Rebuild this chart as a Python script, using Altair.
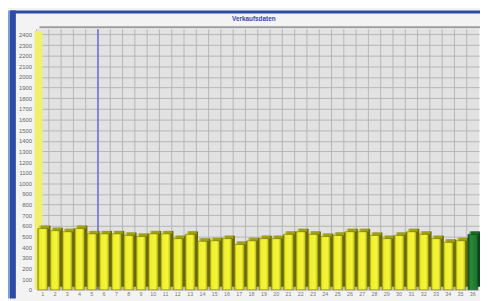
import altair as alt
import pandas as pd

# ---- data ----
categories = ["1", "2", "3", "4", "5", "6", "7", "8", "9", "10", "11", "12",
              "13", "14", "15", "16", "17", "18", "19", "20", "21", "22", "23", "24",
              "25", "26", "27", "28", "29", "30", "31", "32", "33", "34", "35", "36"]
values = [575, 555, 545, 575, 525, 525, 525, 510, 500, 525, 525, 480,
          520, 455, 460, 480, 425, 460, 480, 480, 520, 545, 520, 500,
          510, 545, 545, 510, 480, 510, 545, 520, 480, 445, 460, 520]
kinds = ["Ist"] * 35 + ["Aktuell"]
y_ticks = [0, 100, 200, 300, 400, 500, 600, 700, 800, 900, 1000, 1100, 1200,
           1300, 1400, 1500, 1600, 1700, 1800, 1900, 2000, 2100, 2200, 2300, 2400]
marker_cat = ["6"]
title_text = "Verkaufsdaten"

df = pd.DataFrame({"cat": categories, "value": values, "kind": kinds})
FONT = "Liberation Sans"

xscale = alt.Scale(paddingInner=0, paddingOuter=0)
xaxis = alt.Axis(title=None, labelAngle=0, ticks=False, domain=False,
                 grid=False, labelFontSize=5.5, labelColor="#7a7a7a",
                 labelPadding=2, labelOverlap=False, labelFont=FONT)
x_main = alt.X("cat:O", sort=categories, scale=xscale, axis=xaxis)
x_edge = alt.X("cat:O", sort=categories, scale=xscale, bandPosition=0, axis=xaxis)
y_main = alt.Y("value:Q", scale=alt.Scale(domain=[0, 2450], nice=False, zero=True),
               axis=alt.Axis(title=None, values=y_ticks, grid=True, gridColor="#b6b6b6",
                             gridWidth=1, ticks=False, domain=False, labelFontSize=6,
                             labelColor="#666666", labelPadding=5, labelOverlap=False,
                             labelFont=FONT, format="d"))

base = alt.Chart(df)
deco = alt.Chart(pd.DataFrame({"d": [0]}))

def rect(x1, x2, y1, y2, color):
    return deco.mark_rect(color=color).encode(
        x=alt.value(x1), x2=alt.value(x2), y=alt.value(y1), y2=alt.value(y2))

# vertical grid at band edges
vgrid = base.mark_rule(color="#b6b6b6", strokeWidth=1).encode(x=x_edge)
# blue marker line
marker = alt.Chart(pd.DataFrame({"cat": marker_cat})).mark_rule(
    color="#6b6bd8", strokeWidth=1.5).encode(x=x_edge)

# yellow side wall
wall = rect(-2, 6, 2, 265, "#f0f070")

# frame pieces
light_left = rect(-29, -27, -19, 274, "#7f9fd8")
dark_left = rect(-27, -21, -19, 274, "#2d4ca5")
dark_top = rect(-27, 452, -19, -16, "#2d4ca5")
title_line = deco.mark_rule(color="#9c9c9c", strokeWidth=2).encode(
    x=alt.value(3), x2=alt.value(451), y=alt.value(-2))
title = deco.mark_text(text=title_text, color="#3a44aa", fontSize=6.5, font=FONT,
                       fontWeight="bold").encode(x=alt.value(221), y=alt.value(-10))

yellow = base.transform_filter(alt.datum.kind == "Ist")
green = base.transform_filter(alt.datum.kind == "Aktuell")

side_y = yellow.mark_bar(size=10, color="#6a6a00", xOffset=3, yOffset=-3).encode(x=x_main, y=y_main)
top_y = yellow.mark_tick(size=10, thickness=3, color="#b8b81e", xOffset=1.5, yOffset=-1.5,
                         orient="horizontal").encode(x=x_main, y=y_main)
front_y = yellow.mark_bar(size=10, stroke="#6a6a00", strokeWidth=0.5,
                          color=alt.Gradient(gradient="linear",
                                             stops=[alt.GradientStop(color="#9a9a10", offset=0),
                                                    alt.GradientStop(color="#eeee30", offset=0.2),
                                                    alt.GradientStop(color="#f6f638", offset=0.7),
                                                    alt.GradientStop(color="#b4b41a", offset=1)],
                                             x1=0, x2=1, y1=0, y2=0)).encode(x=x_main, y=y_main)

side_g = green.mark_bar(size=10, color="#0c4416", xOffset=3, yOffset=-3).encode(x=x_main, y=y_main)
top_g = green.mark_tick(size=10, thickness=3, color="#237a33", xOffset=1.5, yOffset=-1.5,
                        orient="horizontal").encode(x=x_main, y=y_main)
front_g = green.mark_bar(size=10, stroke="#0c4416", strokeWidth=0.5,
                         color=alt.Gradient(gradient="linear",
                                            stops=[alt.GradientStop(color="#0f5a1e", offset=0),
                                                   alt.GradientStop(color="#2a8a3a", offset=0.3),
                                                   alt.GradientStop(color="#1c6e2c", offset=1)],
                                            x1=0, x2=1, y1=0, y2=0)).encode(x=x_main, y=y_main)

chart = alt.layer(
    vgrid, marker, wall, light_left, dark_left, dark_top, title_line, title,
    side_y, top_y, front_y, side_g, top_g, front_g
).properties(
    width=450, height=265,
    padding={"left": 29, "top": 19, "right": 1, "bottom": 9},
    autosize=alt.AutoSizeParams(type="none"),
    background="#f3f3f3",
).configure_view(fill="#e2e2e2", strokeWidth=0)

chart.save("out.html", embed_options={"renderer": "svg", "actions": False})
